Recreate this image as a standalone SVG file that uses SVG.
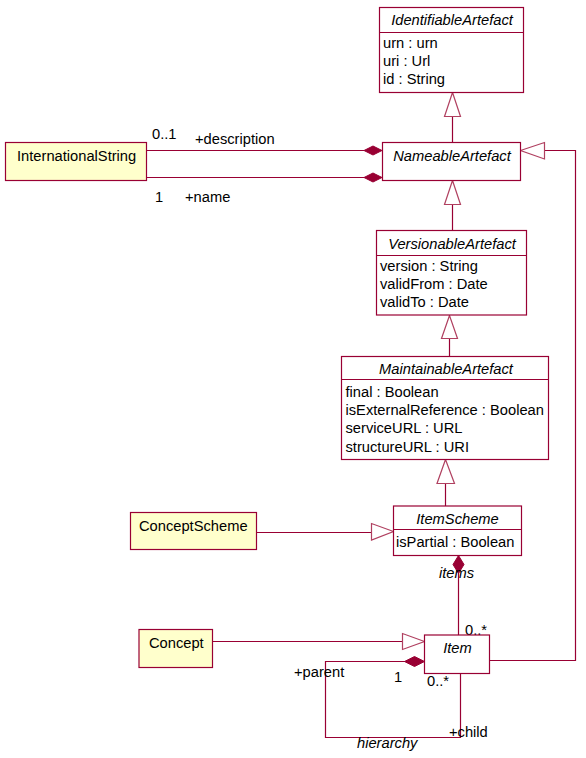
<svg xmlns="http://www.w3.org/2000/svg" width="586" height="758" viewBox="0 0 586 758">
<defs>
<style>
.box{fill:#ffffff;stroke:#990033;stroke-width:1.2}
.ybox{fill:#ffffcc;stroke:#990033;stroke-width:1.2}
.div{stroke:#990033;stroke-width:1.2}
.ln{fill:none;stroke:#990033;stroke-width:1.2}
.gen{fill:#ffffff;stroke:#b04060;stroke-width:1.2}
.dia{fill:#990033;stroke:#990033;stroke-width:1}
text{font-family:"Liberation Sans",Arial,sans-serif;font-size:14.7px;fill:#000000}
.t{font-style:italic;text-anchor:middle}
.i{font-style:italic}
</style>
</defs>
<g id="connectors">
<!-- Nameable -> Identifiable -->
<line class="ln" x1="452.5" y1="116.5" x2="452.5" y2="142.5"/>
<polygon class="gen" points="452.5,92.5 444.5,116.5 460.5,116.5"/>
<!-- Versionable -> Nameable -->
<line class="ln" x1="452.5" y1="204.5" x2="452.5" y2="230.5"/>
<polygon class="gen" points="452.5,180.5 444.5,204.5 460.5,204.5"/>
<!-- Maintainable -> Versionable -->
<line class="ln" x1="449.5" y1="338.5" x2="449.5" y2="356.5"/>
<polygon class="gen" points="449.5,315.5 441.5,338.5 457.5,338.5"/>
<!-- ItemScheme -> Maintainable -->
<line class="ln" x1="445.5" y1="483.5" x2="445.5" y2="506"/>
<polygon class="gen" points="445.5,459.5 437,483.5 454.5,483.5"/>
<!-- ConceptScheme -> ItemScheme -->
<line class="ln" x1="256.5" y1="532.5" x2="371.5" y2="532.5"/>
<polygon class="gen" points="393.5,531.5 371.5,523.5 371.5,540"/>
<!-- Concept -> Item -->
<line class="ln" x1="212.5" y1="641.5" x2="402.5" y2="641.5"/>
<polygon class="gen" points="424.5,641.5 402.5,633.5 402.5,649.5"/>
<!-- Item -> Nameable -->
<polyline class="ln" points="489.5,660.5 575.5,660.5 575.5,150.5 544.5,150.5"/>
<polygon class="gen" points="520.5,150.5 544.5,142.5 544.5,159"/>
<!-- InternationalString compositions -->
<line class="ln" x1="146.5" y1="150.5" x2="364" y2="150.5"/>
<polygon class="dia" points="382,150.5 373,146 364,150.5 373,155"/>
<line class="ln" x1="146.5" y1="177.5" x2="364" y2="177.5"/>
<polygon class="dia" points="382,177.5 373,173 364,177.5 373,182"/>
<!-- ItemScheme items -> Item -->
<line class="ln" x1="458.5" y1="573" x2="458.5" y2="635"/>
<polygon class="dia" points="458.5,555.5 464,564.5 458.5,573.5 453,564.5"/>
<!-- hierarchy -->
<polyline class="ln" points="405,661.5 325.5,661.5 325.5,737.5 460.5,737.5 460.5,674"/>
<polygon class="dia" points="424.5,661.5 414.5,656.5 404.5,661.5 414.5,666.5"/>
</g>
<g id="labels">
<text x="152" y="139">0..1</text>
<text x="195" y="144">+description</text>
<text x="155" y="202">1</text>
<text x="185" y="202">+name</text>
<text class="i" x="439" y="578">items</text>
<text x="465" y="635">0..*</text>
<text x="294" y="677">+parent</text>
<text x="394" y="682">1</text>
<text x="427" y="686">0..*</text>
<text x="449" y="737">+child</text>
<text class="i" x="357" y="748">hierarchy</text>
</g>
<g id="IdentifiableArtefact">
<rect class="box" x="379.5" y="7.5" width="144" height="85"/>
<line class="div" x1="379.5" y1="32.5" x2="523.5" y2="32.5"/>
<text class="t" x="452" y="25">IdentifiableArtefact</text>
<text x="383" y="48">urn : urn</text>
<text x="383" y="66">uri : Url</text>
<text x="383" y="84">id : String</text>
</g>
<g id="NameableArtefact">
<rect class="box" x="382.5" y="142.5" width="138" height="38"/>
<text class="t" x="452" y="161">NameableArtefact</text>
</g>
<g id="InternationalString">
<rect class="ybox" x="5.5" y="142.5" width="141" height="38"/>
<text x="17" y="161">InternationalString</text>
</g>
<g id="VersionableArtefact">
<rect class="box" x="376.5" y="230.5" width="150" height="84.5"/>
<line class="div" x1="376.5" y1="255.5" x2="526.5" y2="255.5"/>
<text class="t" x="452" y="249">VersionableArtefact</text>
<text x="380" y="271">version : String</text>
<text x="380" y="289">validFrom : Date</text>
<text x="380" y="307">validTo : Date</text>
</g>
<g id="MaintainableArtefact">
<rect class="box" x="341.5" y="356.5" width="207" height="103"/>
<line class="div" x1="341.5" y1="379.5" x2="548.5" y2="379.5"/>
<text class="t" x="446" y="374">MaintainableArtefact</text>
<text x="345.5" y="397">final : Boolean</text>
<text x="345.5" y="415">isExternalReference : Boolean</text>
<text x="345.5" y="433">serviceURL : URL</text>
<text x="345.5" y="451.5">structureURL : URI</text>
</g>
<g id="ItemScheme">
<rect class="box" x="393.5" y="506" width="128" height="49.5"/>
<line class="div" x1="393.5" y1="529.5" x2="521.5" y2="529.5"/>
<text class="t" x="457.5" y="524">ItemScheme</text>
<text x="396" y="547">isPartial : Boolean</text>
</g>
<g id="ConceptScheme">
<rect class="ybox" x="130.5" y="512.5" width="126" height="37"/>
<text x="139" y="531">ConceptScheme</text>
</g>
<g id="Concept">
<rect class="ybox" x="139" y="629.5" width="73.5" height="38"/>
<text x="149" y="648">Concept</text>
</g>
<g id="Item">
<rect class="box" x="424.5" y="635" width="65" height="38.5"/>
<text class="t" x="457.5" y="653">Item</text>
</g>
</svg>
